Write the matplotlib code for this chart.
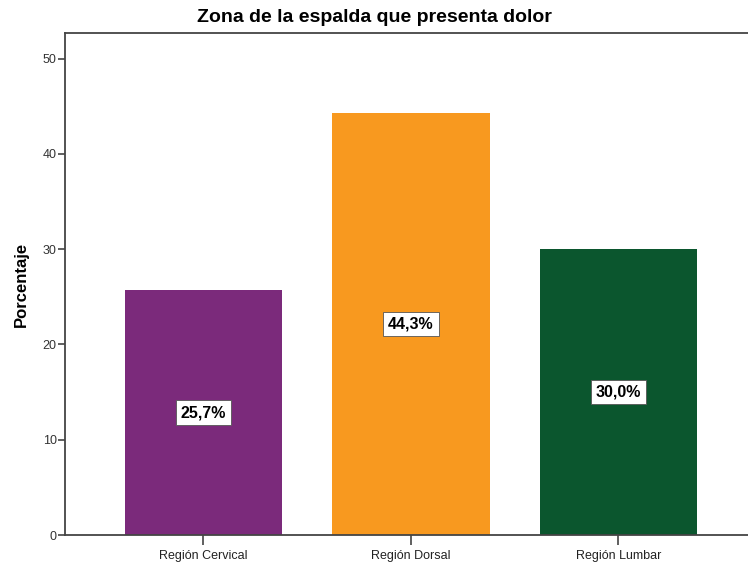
import matplotlib.pyplot as plt

categories = ["Región Cervical", "Región Dorsal", "Región Lumbar"]
values = [25.7, 44.3, 30.0]
labels = ["25,7%", "44,3%", "30,0%"]
colors = ["#7B2A7B", "#F8991F", "#0B562E"]

plt.rcParams["font.family"] = ["Liberation Sans", "DejaVu Sans"]

fig = plt.figure(figsize=(7.48, 5.62), dpi=100)
ax = fig.add_axes([65 / 748, 1 - 535 / 562, 1 - 65 / 748, (535 - 33) / 562])

x = range(len(categories))
ax.bar(x, values, width=0.757, color=colors)

for i, (v, lab) in enumerate(zip(values, labels)):
    ax.text(i, v / 2, lab, ha="center", va="center", fontsize=11.5, fontweight="bold",
            bbox=dict(boxstyle="square,pad=0.3", facecolor="white", edgecolor="#555555", linewidth=0.6))

ax.set_xlim(-0.667, 2.624)
ax.set_ylim(0, 52.7)
ax.set_yticks([0, 10, 20, 30, 40, 50])
ax.set_xticks(list(x))
ax.set_xticklabels(categories)

for side in ["left", "bottom", "top"]:
    ax.spines[side].set_color("#444444")
    ax.spines[side].set_linewidth(1.3)
ax.spines["right"].set_visible(False)

ax.tick_params(axis="y", length=5, width=1.2, color="#444444", labelsize=9, labelcolor="#333333", pad=1)
ax.tick_params(axis="x", length=7, width=1.2, color="#444444", labelsize=9, labelcolor="#222222", pad=4)

ax.set_ylabel("Porcentaje", fontsize=12, fontweight="bold", labelpad=10)
fig.suptitle("Zona de la espalda que presenta dolor", fontsize=14, fontweight="bold", y=0.984)

fig.savefig("out.png", dpi=100)
